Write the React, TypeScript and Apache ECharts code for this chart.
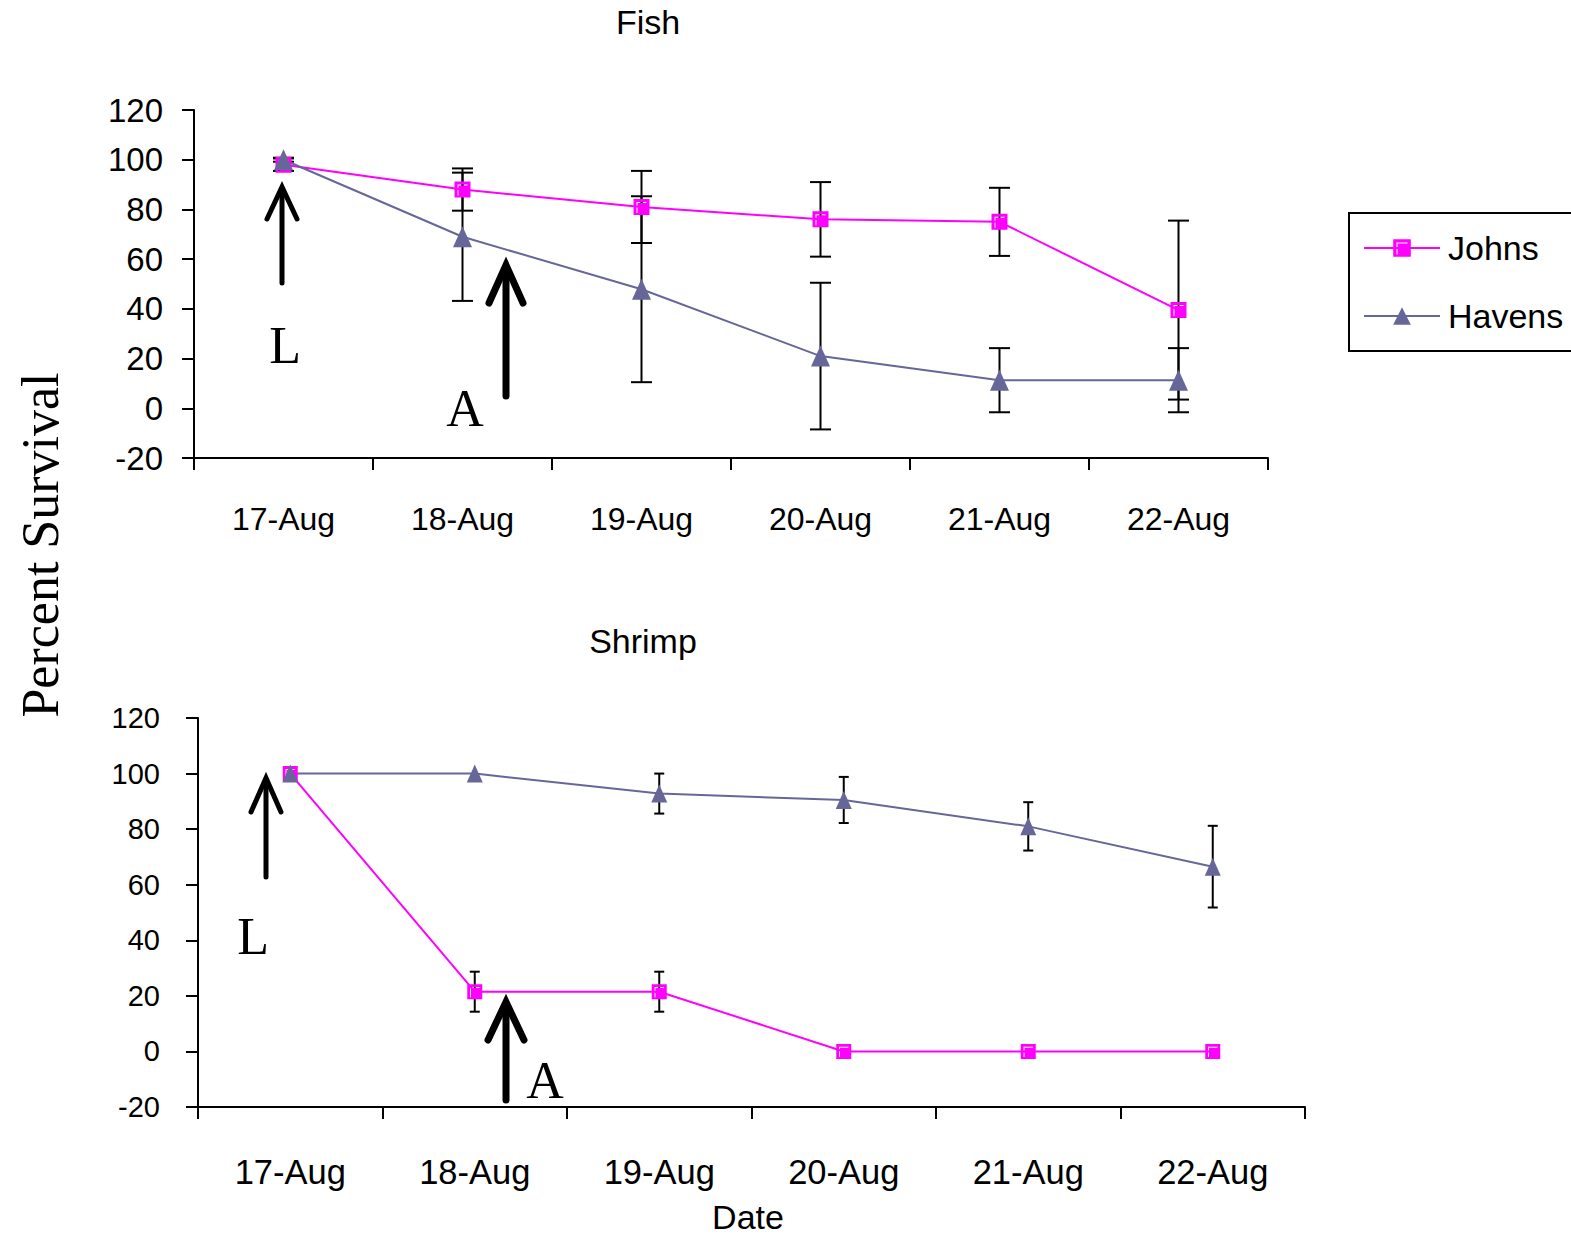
import React, { useEffect, useRef } from "react";
import * as echarts from "echarts";

const categories = ["17-Aug", "18-Aug", "19-Aug", "20-Aug", "21-Aug", "22-Aug"];

const fishJohns = [98, 88, 81, 76, 75, 39.5];
const fishJohnsErr = [2.5, 8.5, 14.5, 15, 13.7, 36];
const fishHavens = [100, 69, 47.9, 21, 11.3, 11.3];
const fishHavensErr = [0.8, 25.8, 37.4, 29.5, 12.9, 12.9];

const shrimpJohns = [100, 21.5, 21.5, 0, 0, 0];
const shrimpJohnsErr = [0, 7.2, 7.2, 0, 0, 0];
const shrimpHavens = [100, 100, 92.8, 90.5, 81, 66.5];
const shrimpHavensErr = [0, 0, 7.2, 8.3, 8.7, 14.7];

const yTicks = { min: -20, max: 120, interval: 20 };

const MAGENTA = "#FF00FF";
const NAVY = "#666699";
const SANS = "'Liberation Sans', Arial, sans-serif";
const SERIF = "'Liberation Serif', 'Times New Roman', serif";

const squarePath = "path://M0 0H16V16H0Z M3 3V14H4V4H13V3Z";

function errData(vals: number[], errs: number[]) {
  return vals.map((v, i) => [i, v, errs[i]]);
}

function errRenderer(cap: number) {
  return (_params: any, api: any) => {
    const x = api.value(0);
    const v = api.value(1);
    const e = api.value(2);
    if (!e) return null;
    const hi = api.coord([x, v + e]);
    const lo = api.coord([x, v - e]);
    const style = { stroke: "#000", lineWidth: 2 };
    return {
      type: "group",
      children: [
        { type: "line", shape: { x1: hi[0], y1: hi[1], x2: lo[0], y2: lo[1] }, style },
        { type: "line", shape: { x1: hi[0] - cap, y1: hi[1], x2: hi[0] + cap, y2: hi[1] }, style },
        { type: "line", shape: { x1: lo[0] - cap, y1: lo[1], x2: lo[0] + cap, y2: lo[1] }, style },
      ],
    };
  };
}

function xAxisOpt(grid: number, margin: number, fontSize: number) {
  return {
    type: "category",
    gridIndex: grid,
    data: categories,
    boundaryGap: true,
    axisLine: { show: true, onZero: false, lineStyle: { color: "#000", width: 2 } },
    axisTick: {
      show: true,
      inside: false,
      alignWithLabel: false,
      interval: 0,
      length: 12,
      lineStyle: { color: "#000", width: 2 },
    },
    axisLabel: { margin, fontSize, color: "#000", fontFamily: SANS, interval: 0 },
    splitLine: { show: false },
  };
}

function yAxisOpt(grid: number, margin: number, fontSize: number) {
  return {
    type: "value",
    gridIndex: grid,
    min: yTicks.min,
    max: yTicks.max,
    interval: yTicks.interval,
    axisLine: { show: true, lineStyle: { color: "#000", width: 2 } },
    axisTick: { show: true, inside: false, length: 12, lineStyle: { color: "#000", width: 2 } },
    axisLabel: { margin, fontSize, color: "#000", fontFamily: SANS },
    splitLine: { show: false },
  };
}

function lineSeries(name: string, data: number[], idx: number, color: string, symbol: string, size: any) {
  return {
    type: "line",
    name,
    xAxisIndex: idx,
    yAxisIndex: idx,
    data,
    symbol,
    symbolSize: size,
    showAllSymbol: true,
    lineStyle: { color, width: 2 },
    itemStyle: { color, borderWidth: 0 },
    z: 3,
  };
}

function errSeries(name: string, vals: number[], errs: number[], idx: number, cap: number) {
  return {
    type: "custom",
    name,
    xAxisIndex: idx,
    yAxisIndex: idx,
    data: errData(vals, errs),
    encode: { x: 0, y: 1 },
    renderItem: errRenderer(cap),
    z: 2,
    silent: true,
  };
}

function arrow(x: number, yBottom: number, yTip: number, headW: number, headH: number, w: number) {
  return [
    {
      type: "line",
      shape: { x1: x, y1: yBottom, x2: x, y2: yTip + 2 },
      style: { stroke: "#000", lineWidth: w, lineCap: "round" },
    },
    {
      type: "polyline",
      shape: { points: [[x - headW, yTip + headH], [x, yTip], [x + headW, yTip + headH]] },
      style: { stroke: "#000", lineWidth: w, lineCap: "round", lineJoin: "miter", fill: null },
    },
  ];
}

function label(text: string, x: number, y: number, fontSize: number, family: string, rotation = 0) {
  return {
    type: "text",
    x,
    y,
    rotation,
    style: {
      text,
      fontSize,
      fontFamily: family,
      fill: "#000",
      align: "center",
      verticalAlign: "middle",
    },
  };
}

export default function App() {
  const ref = useRef<HTMLDivElement>(null);
  useEffect(() => {
    if (!ref.current) return;
    const chart = echarts.init(ref.current, null, { renderer: "svg" });
    chart.setOption({
      animation: false,
      backgroundColor: "#fff",
      grid: [
        { left: 194, top: 110, width: 1074, height: 348 },
        { left: 198, top: 718, width: 1107, height: 389 },
      ],
      xAxis: [xAxisOpt(0, 45, 32), xAxisOpt(1, 47, 34.5)],
      yAxis: [yAxisOpt(0, 31, 33), yAxisOpt(1, 38, 29)],
      legend: {
        data: ["Johns", "Havens"],
        orient: "vertical",
        left: 1349,
        top: 213,
        borderColor: "#000",
        borderWidth: 2,
        borderRadius: 0,
        padding: [18, 40, 18, 14],
        itemWidth: 76,
        itemHeight: 22,
        itemGap: 34,
        textStyle: { fontSize: 34, fontFamily: SANS, color: "#000", padding: [0, 0, 0, 3] },
      },
      series: [
        errSeries("errFishJohns", fishJohns, fishJohnsErr, 0, 10.5),
        errSeries("errFishHavens", fishHavens, fishHavensErr, 0, 10.5),
        lineSeries("Johns", fishJohns, 0, MAGENTA, squarePath, 16),
        lineSeries("Havens", fishHavens, 0, NAVY, "triangle", [19, 21]),
        errSeries("errShrimpJohns", shrimpJohns, shrimpJohnsErr, 1, 5),
        errSeries("errShrimpHavens", shrimpHavens, shrimpHavensErr, 1, 5),
        lineSeries("Johns", shrimpJohns, 1, MAGENTA, squarePath, 15),
        lineSeries("Havens", shrimpHavens, 1, NAVY, "triangle", [16, 18]),
      ],
      graphic: [
        label("Fish", 648, 22, 34, SANS),
        label("Shrimp", 643, 641, 34, SANS),
        label("Date", 748, 1217, 34, SANS),
        label("Percent Survival", 40, 545, 52, SERIF, Math.PI / 2),
        label("L", 285, 345, 52, SERIF),
        label("A", 465, 408, 52, SERIF),
        label("L", 253, 936, 52, SERIF),
        label("A", 545, 1080, 52, SERIF),
        ...arrow(282, 283, 187, 15, 32, 5),
        ...arrow(506, 396, 265, 17, 38, 7),
        ...arrow(266, 877, 778, 15, 34, 5),
        ...arrow(506, 1100, 1002, 18, 38, 7),
      ],
    });
    return () => chart.dispose();
  }, []);
  return (
    <div
      ref={ref}
      style={{ position: "absolute", left: 0, top: 0, width: 1571, height: 1236 }}
    />
  );
}
